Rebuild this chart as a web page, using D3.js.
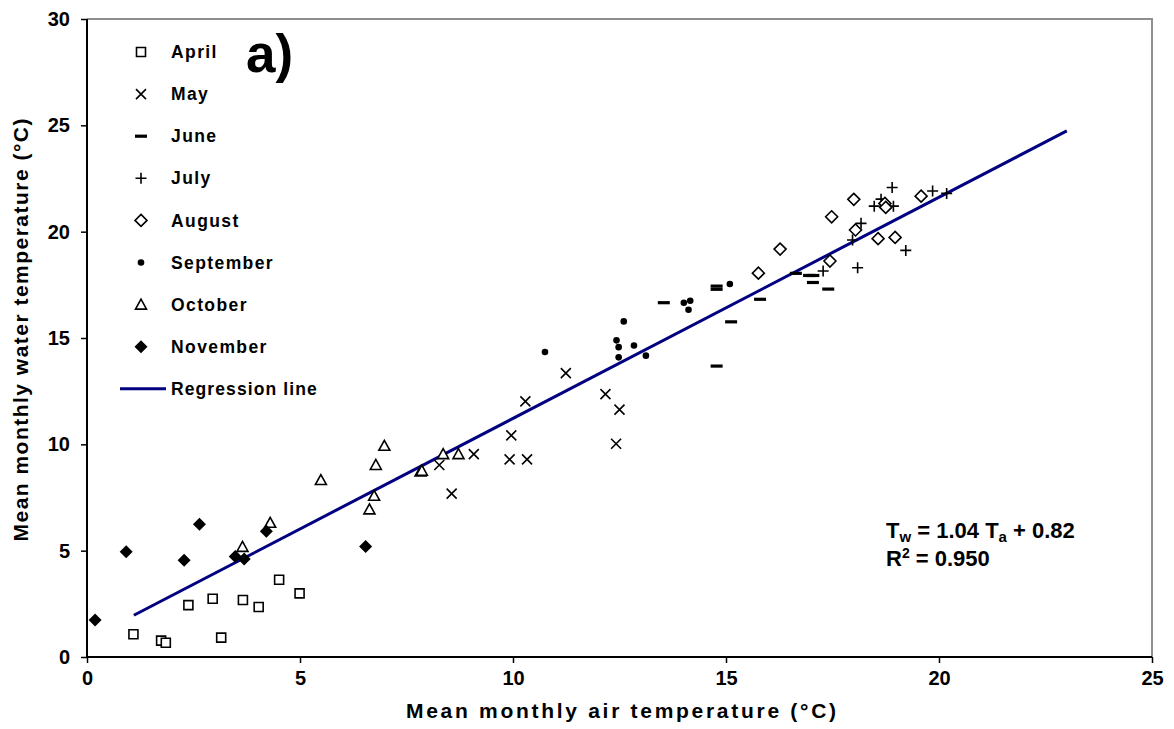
<!DOCTYPE html>
<html>
<head>
<meta charset="utf-8">
<script src="https://cdn.jsdelivr.net/npm/d3@7"></script>
<style>
  html, body { margin: 0; padding: 0; background: #fff; }
  svg { display: block; font-family: "Liberation Sans", Arial, sans-serif; font-weight: bold; }
</style>
</head>
<body>
<svg id="chart" width="1174" height="729"></svg>
<script>
// Monthly means: air temperature (Ta) vs water temperature (Tw), °C
const aprilTa = [1.09, 1.74, 1.85, 2.38, 2.95, 3.15, 3.66, 4.03, 4.51, 4.99];
const aprilTw = [1.07, 0.77, 0.67, 2.44, 2.74, 0.91, 2.68, 2.35, 3.63, 2.99];

const mayTa = [8.27, 8.56, 9.08, 9.92, 9.96, 10.29, 10.33, 11.24, 12.17, 12.42, 12.50];
const mayTw = [9.03, 7.68, 9.54, 9.29, 10.42, 12.02, 9.29, 13.35, 12.36, 10.03, 11.63];

const juneTa = [13.54, 14.78, 14.78, 14.78, 15.12, 15.80, 16.64, 16.95, 17.05, 17.04, 17.40];
const juneTw = [16.66, 17.44, 17.29, 13.68, 15.76, 16.82, 18.04, 17.94, 17.94, 17.61, 17.30];

const julyTa = [17.28, 17.97, 18.09, 18.17, 18.48, 18.64, 18.90, 18.93, 19.22, 19.85, 20.18];
const julyTw = [18.15, 19.61, 18.30, 20.39, 21.20, 21.53, 22.08, 21.20, 19.12, 21.91, 21.80];

const augustTa = [15.76, 16.27, 17.44, 17.48, 18.00, 18.04, 18.57, 18.73, 18.75, 18.97, 19.58];
const augustTw = [18.05, 19.18, 18.62, 20.70, 21.52, 20.08, 19.67, 21.33, 21.14, 19.73, 21.67];

const septemberTa = [10.75, 12.43, 12.48, 12.48, 12.60, 12.84, 13.12, 14.01, 14.16, 14.12, 15.09];
const septemberTw = [14.34, 14.89, 14.57, 14.09, 15.78, 14.65, 14.17, 16.66, 16.75, 16.33, 17.54];

const octoberTa = [3.65, 4.30, 5.49, 6.63, 6.74, 6.78, 6.98, 7.83, 7.86, 8.36, 8.72];
const octoberTw = [5.18, 6.31, 8.32, 6.94, 7.58, 9.03, 9.93, 8.72, 8.76, 9.54, 9.54];

const novemberTa = [0.19, 0.92, 2.28, 2.64, 3.48, 3.69, 4.21, 6.54];
const novemberTw = [1.74, 4.95, 4.55, 6.24, 4.72, 4.61, 5.91, 5.20];

// Regression Tw = 1.04 Ta + 0.82, drawn over the observed air temperature range
const slope = 1.04;
const intercept = 0.82;
const fitRange = [1.1, 23];

const xTicks = [0, 5, 10, 15, 20, 25];
const yTicks = [0, 5, 10, 15, 20, 25, 30];
const monthNames = ["April", "May", "June", "July", "August", "September", "October", "November"];
const markerKinds = ["square", "cross", "dash", "plus", "diamond", "dot", "triangle", "filledDiamond"];

const seriesTa = [aprilTa, mayTa, juneTa, julyTa, augustTa, septemberTa, octoberTa, novemberTa];
const seriesTw = [aprilTw, mayTw, juneTw, julyTw, augustTw, septemberTw, octoberTw, novemberTw];

const svg = d3.select("#chart");
const plotLeft = 87, plotRight = 1152, plotTop = 19, plotBottom = 657;

const x = d3.scaleLinear().domain([0, 25]).range([plotLeft, plotRight]);
const y = d3.scaleLinear().domain([0, 30]).range([plotBottom, plotTop]);

// Marker outlines centred at the origin
function markerPath(kind) {
  switch (kind) {
    case "square": return "M-4.5,-4.5H4.5V4.5H-4.5Z";
    case "cross": return "M-5,-5L5,5M-5,5L5,-5";
    case "plus": return "M-5.5,0H5.5M0,-5.5V5.5";
    case "diamond": return "M0,-6L6,0L0,6L-6,0Z";
    case "filledDiamond": return "M0,-6.5L6.5,0L0,6.5L-6.5,0Z";
    case "triangle": return "M0,-5.5L5.5,4.5H-5.5Z";
    case "dash": return "M-6,-1.6H6V1.6H-6Z";
    case "dot": return d3.arc()({innerRadius: 0, outerRadius: 3.3, startAngle: 0, endAngle: 2 * Math.PI});
  }
}
function styleMarker(sel, kind) {
  const filled = kind === "dash" || kind === "dot" || kind === "filledDiamond";
  const open = kind === "square" || kind === "diamond" || kind === "triangle";
  sel.attr("d", markerPath(kind))
     .attr("fill", filled ? "#000" : (open ? "#fff" : "none"))
     .attr("stroke", filled ? "none" : "#000")
     .attr("stroke-width", 1.6)
     .attr("stroke-linejoin", "miter");
}

// Frame: light top/right border
svg.append("path")
  .attr("d", `M${plotLeft},${plotTop}H${plotRight}V${plotBottom}`)
  .attr("fill", "none").attr("stroke", "#8f8f8f").attr("stroke-width", 2);

// Axes
const xAxis = d3.axisBottom(x).tickValues(xTicks).tickSize(6).tickPadding(8).tickFormat(d3.format("d"));
const yAxis = d3.axisLeft(y).tickValues(yTicks).tickSize(6).tickPadding(11).tickFormat(d3.format("d"));

const gx = svg.append("g").attr("transform", `translate(0,${plotBottom})`).call(xAxis);
const gy = svg.append("g").attr("transform", `translate(${plotLeft},0)`).call(yAxis);
[gx, gy].forEach(g => {
  g.select(".domain").attr("stroke", "#000").attr("stroke-width", 2);
  g.selectAll(".tick line").attr("stroke", "#000").attr("stroke-width", 1.5);
  g.selectAll(".tick text").attr("fill", "#000")
    .style("font-family", "'Liberation Sans', Arial, sans-serif")
    .style("font-weight", "bold").style("font-size", "20px");
});
gx.select(".domain").attr("d", `M${plotLeft},0H${plotRight}`);
gy.select(".domain").attr("d", `M0,${plotBottom}V${plotTop}`);

// Regression line
const fit = fitRange.map(t => [t, slope * t + intercept]);
svg.append("path")
  .attr("d", d3.line().x(d => x(d[0])).y(d => y(d[1]))(fit))
  .attr("fill", "none").attr("stroke", "#000080").attr("stroke-width", 3);

// Monthly points
monthNames.forEach((name, i) => {
  const pts = seriesTa[i].map((ta, j) => ({ta, tw: seriesTw[i][j]}));
  svg.append("g").attr("class", "series-" + name)
    .selectAll("path").data(pts).join("path")
    .attr("transform", d => `translate(${x(d.ta)},${y(d.tw)})`)
    .call(styleMarker, markerKinds[i]);
});

// Legend
const legend = svg.append("g");
const rowY = i => 52 + i * 42.1;
monthNames.forEach((name, i) => {
  legend.append("path").attr("transform", `translate(141,${rowY(i)})`).call(styleMarker, markerKinds[i]);
  legend.append("text").attr("x", 171).attr("y", rowY(i)).attr("dy", "0.35em")
    .style("font-size", "17.5px").style("letter-spacing", "1.4px").text(name);
});
legend.append("line").attr("x1", 120).attr("x2", 166).attr("y1", rowY(8)).attr("y2", rowY(8))
  .attr("stroke", "#000080").attr("stroke-width", 3);
legend.append("text").attr("x", 171).attr("y", rowY(8)).attr("dy", "0.35em")
  .style("font-size", "17.5px").style("letter-spacing", "1.1px").text("Regression line");

// Panel label
svg.append("text").attr("x", 246).attr("y", 72).style("font-size", "53px").text("a)");

// Fitted equation
const eq = svg.append("text").attr("x", 886).attr("y", 538).style("font-size", "22px");
eq.append("tspan").text("T");
eq.append("tspan").attr("dy", 4).style("font-size", "15px").text("w");
eq.append("tspan").attr("dy", -4).text(` = ${slope.toFixed(2)} T`);
eq.append("tspan").attr("dy", 4).style("font-size", "15px").text("a");
eq.append("tspan").attr("dy", -4).text(` + ${intercept.toFixed(2)}`);
const r2 = svg.append("text").attr("x", 886).attr("y", 566).style("font-size", "22px");
r2.append("tspan").text("R");
r2.append("tspan").attr("dy", -8).style("font-size", "14px").text("2");
r2.append("tspan").attr("dy", 8).text(" = 0.950");

// Axis titles
svg.append("text").attr("x", 621).attr("y", 718).attr("text-anchor", "middle")
  .attr("textLength", 430).attr("lengthAdjust", "spacing")
  .style("font-size", "21px").text("Mean monthly air temperature (°C)");
svg.append("text").attr("transform", "translate(28,330) rotate(-90)").attr("text-anchor", "middle")
  .attr("textLength", 423).attr("lengthAdjust", "spacing")
  .style("font-size", "21px").text("Mean monthly water temperature (°C)");
</script>
</body>
</html>
